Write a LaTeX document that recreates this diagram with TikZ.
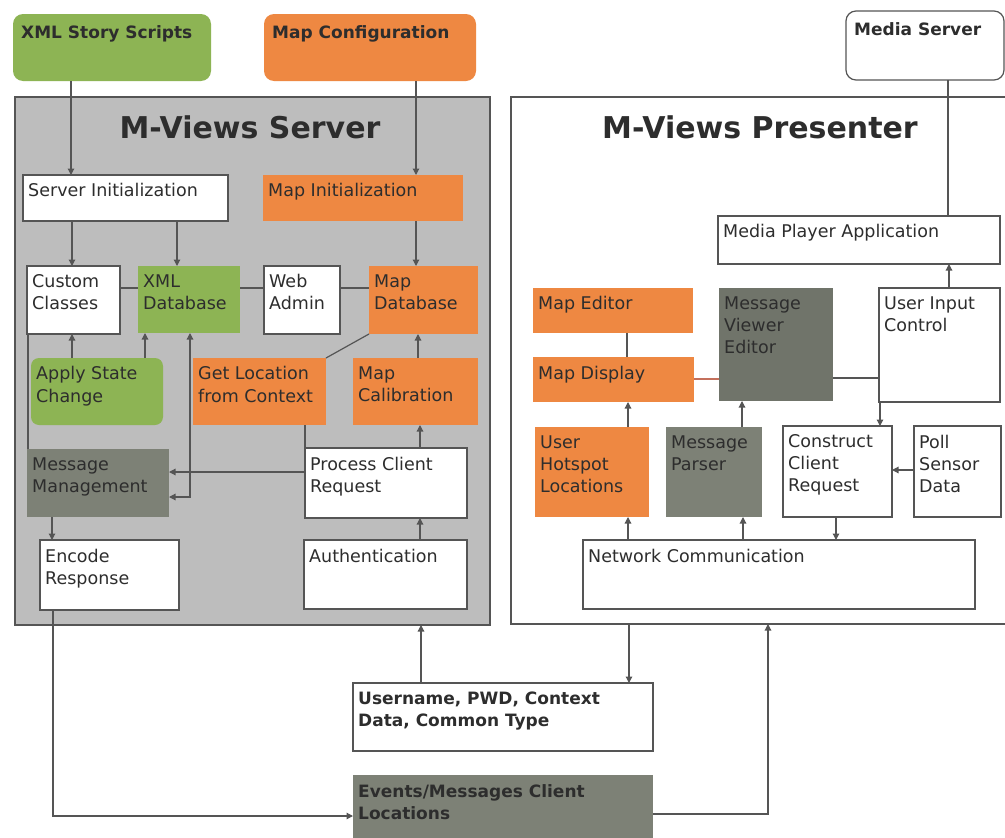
\documentclass[tikz,border=0pt]{standalone}
\usepackage{fontspec}
\setmainfont{DejaVu Sans}
\usetikzlibrary{arrows.meta}
\definecolor{grn}{RGB}{141,180,84}
\definecolor{org}{RGB}{238,136,66}
\definecolor{dkg}{RGB}{125,129,118}
\definecolor{dkg2}{RGB}{112,116,106}
\definecolor{srv}{RGB}{189,189,189}
\definecolor{linec}{RGB}{85,85,85}
\definecolor{txt}{RGB}{45,45,45}
\definecolor{redl}{RGB}{196,112,92}
\newcommand{\bx}[8]{\node[#6, anchor=north west, inner sep=0pt, outer sep=0pt, minimum width={#4-#2}, minimum height={#5-#3}, label={[#7]north west:{#8}}] (#1) at (#2,#3) {};}
\begin{document}
\begin{tikzpicture}[x=1pt,y=-1pt,
  wbox/.style={draw=linec, line width=1.2pt, fill=white},
  obox/.style={fill=org},
  gbox/.style={fill=grn},
  dbox/.style={fill=dkg},
  lbl/.style={anchor=north west, xshift=5pt, yshift=-8.5pt, inner sep=0pt, align=left, text=txt, font=\fontsize{17.5}{22}\selectfont},
  lblb/.style={anchor=north west, xshift=8pt, yshift=-11.5pt, inner sep=0pt, align=left, text=txt, font=\fontsize{17}{22}\selectfont\bfseries},
  lblc/.style={anchor=north west, xshift=5pt, yshift=-9pt, inner sep=0pt, align=left, text=txt, font=\fontsize{17}{22}\selectfont\bfseries},
  title/.style={anchor=base, inner sep=0pt, text=txt, font=\fontsize{30}{34}\selectfont\bfseries},
  ln/.style={draw=linec, line width=1.2pt},
  arr/.style={ln, -{Triangle[length=6.5pt,width=6.5pt]}},
  arrb/.style={ln, {Triangle[length=6.5pt,width=6.5pt]}-{Triangle[length=6.5pt,width=6.5pt]}}
]
\useasboundingbox[fill=white] (0,0) rectangle (1005,838);
% containers
\bx{server}{15}{97}{490}{625}{draw=linec, line width=1.2pt, fill=srv}{lbl}{}
\bx{pres}{511}{97}{1012}{624}{draw=linec, line width=1.2pt, fill=white}{lbl}{}
\node[title] (stitle) at (250,138) {M-Views Server};
\node[title] (ptitle) at (760,138) {M-Views Presenter};
% top sources
\bx{xmls}{13}{14}{211}{81}{gbox, rounded corners=10pt}{lblb}{XML Story Scripts}
\bx{mapc}{264}{14}{476}{81}{obox, rounded corners=10pt}{lblb}{Map Configuration}
\bx{medias}{846}{11}{1004}{80}{wbox, rounded corners=10pt}{lblb}{Media Server}
% server boxes
\bx{sinit}{23}{175}{228}{221}{wbox}{lbl}{Server Initialization}
\bx{minit}{263}{175}{463}{221}{obox}{lbl}{Map Initialization}
\bx{cc}{27}{266}{120}{334}{wbox}{lbl}{Custom\\Classes}
\bx{xmldb}{138}{266}{240}{333}{gbox}{lbl}{XML\\Database}
\bx{web}{264}{266}{340}{334}{wbox}{lbl}{Web\\Admin}
\bx{mapdb}{369}{266}{478}{334}{obox}{lbl}{Map\\Database}
\bx{asc}{31}{358}{163}{425}{gbox, rounded corners=8pt}{lbl}{Apply State\\Change}
\bx{gloc}{193}{358}{326}{425}{obox}{lbl}{Get Location\\from Context}
\bx{mcal}{353}{358}{478}{425}{obox}{lbl}{Map\\Calibration}
\bx{mm}{27}{449}{169}{517}{dbox}{lbl}{Message\\Management}
\bx{pcr}{305}{448}{467}{518}{wbox}{lbl}{Process Client\\Request}
\bx{enc}{40}{540}{179}{610}{wbox}{lbl}{Encode\\Response}
\bx{auth}{304}{540}{467}{609}{wbox}{lbl}{Authentication}
% bottom data
\bx{user}{353}{683}{653}{751}{wbox}{lblc}{Username, PWD, Context\\Data, Common Type}
\bx{events}{353}{775}{653}{845}{dbox}{lblc}{Events/Messages Client\\Locations}
% presenter boxes
\bx{mpa}{718}{216}{1000}{264}{wbox}{lbl}{Media Player Application}
\bx{med}{533}{288}{693}{333}{obox}{lbl}{Map Editor}
\bx{mve}{719}{288}{833}{401}{fill=dkg2}{lbl}{Message\\Viewer\\Editor}
\bx{uic}{879}{288}{1000}{402}{wbox}{lbl}{User Input\\Control}
\bx{mdisp}{533}{357}{694}{402}{obox}{lbl}{Map Display}
\bx{uhl}{535}{427}{649}{517}{obox}{lbl}{User\\Hotspot\\Locations}
\bx{mp}{666}{427}{762}{517}{dbox}{lbl}{Message\\Parser}
\bx{ccr}{783}{426}{892}{517}{wbox}{lbl}{Construct\\Client\\Request}
\bx{psd}{914}{426}{1001}{517}{wbox}{lbl}{Poll\\Sensor\\Data}
\bx{net}{583}{540}{975}{609}{wbox}{lbl}{Network Communication}
% server connectors
\draw[arr] (xmls.south -| 71,0) -- (sinit.north -| 71,0);
\draw[arr] (mapc.south -| 416,0) -- (minit.north -| 416,0);
\draw[arr] (sinit.south -| 72,0) -- (cc.north -| 72,0);
\draw[arr] (sinit.south -| 177,0) -- (xmldb.north -| 177,0);
\draw[arr] (minit.south -| 416,0) -- (mapdb.north -| 416,0);
\draw[ln] (cc.east |- 0,288) -- (xmldb.west |- 0,288);
\draw[ln] (xmldb.east |- 0,288) -- (web.west |- 0,288);
\draw[ln] (web.east |- 0,288) -- (mapdb.west |- 0,288);
\draw[arr] (asc.north -| 72,0) -- (cc.south -| 72,0);
\draw[arr] (asc.north -| 145,0) -- (xmldb.south -| 145,0);
\draw[ln] (mapdb.south west) -- (gloc.north east);
\draw[arr] (mcal.north -| 418,0) -- (mapdb.south -| 418,0);
\draw[arrb] (mm.east |- 0,497) -| (xmldb.south -| 190,0);
\draw[arr] (pcr.west |- 0,472) -- (mm.east |- 0,472);
\draw[ln] (gloc.south -| 305,0) -- (pcr.north west);
\draw[ln] (cc.south -| 28,0) -- (mm.north -| 28,0);
\draw[arr] (mm.south -| 52,0) -- (enc.north -| 52,0);
\draw[arr] (pcr.north -| 420,0) -- (mcal.south -| 420,0);
\draw[arr] (auth.north -| 420,0) -- (pcr.south -| 420,0);
\draw[arr] (user.north -| 421,0) -- (server.south -| 421,0);
\draw[arr] (enc.south -| 53,0) |- (events.west |- 0,816);
\draw[arr] (pres.south -| 629,0) -- (user.north -| 629,0);
\draw[arr] (events.east |- 0,814) -| (pres.south -| 768,0);
% presenter connectors
\draw[ln] (medias.south -| 948,0) -- (mpa.north -| 948,0);
\draw[arr] (uic.north -| 949,0) -- (mpa.south -| 949,0);
\draw[ln] (med.south -| 627,0) -- (mdisp.north -| 627,0);
\draw[ln, draw=redl] (mdisp.east |- 0,379) -- (mve.west |- 0,379);
\draw[ln] (mve.east |- 0,378) -- (uic.west |- 0,378);
\draw[arr] (uic.south -| 880,0) -- (ccr.north -| 880,0);
\draw[arr] (net.north -| 628,0) -- (uhl.south -| 628,0);
\draw[arr] (net.north -| 743,0) -- (mp.south -| 743,0);
\draw[arr] (uhl.north -| 628,0) -- (mdisp.south -| 628,0);
\draw[arr] (mp.north -| 742,0) -- (mve.south -| 742,0);
\draw[arr] (ccr.south -| 836,0) -- (net.north -| 836,0);
\draw[arr] (psd.west |- 0,470) -- (ccr.east |- 0,470);
\end{tikzpicture}
\end{document}
